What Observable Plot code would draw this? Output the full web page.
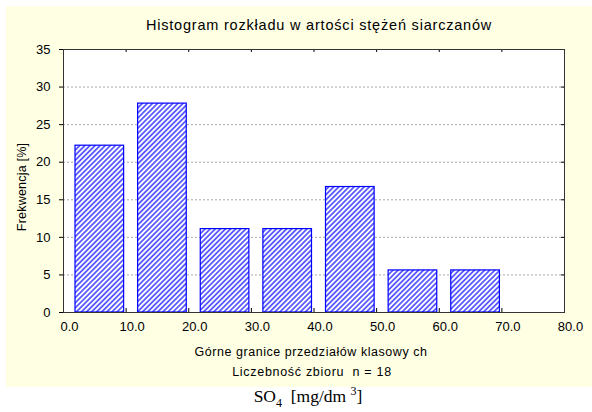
<!DOCTYPE html>
<html>
<head>
<meta charset="utf-8">
<script src="https://cdn.jsdelivr.net/npm/d3@7"></script>
<script src="https://cdn.jsdelivr.net/npm/@observablehq/plot@0.6"></script>
<style>
  html, body { margin: 0; padding: 0; background: #ffffff; }
  #wrap { position: relative; width: 592px; height: 412px; overflow: hidden; font-family: Arial, "Liberation Sans", sans-serif; color: #000; }
  #panel { position: absolute; left: 6px; top: 6px; width: 586px; height: 381px; background: #FFFFE4; }
  #chart { position: absolute; left: 0; top: 0; }
  .lbl { position: absolute; white-space: nowrap; transform: translate(-50%, -50%); line-height: 1; }
</style>
</head>
<body>
<div id="wrap">
  <div id="panel"></div>
  <div id="chart"></div>
  <div class="lbl" style="left:319px; top:25px; font-size:14.5px; letter-spacing:0.8px;">Histogram rozkładu w artości stężeń siarczanów</div>
  <div class="lbl" style="left:22px; top:187px; font-size:12.5px; letter-spacing:0.2px; transform: translate(-50%, -50%) rotate(-90deg);">Frekwencja [%]</div>
  <div class="lbl" style="left:311px; top:352px; font-size:12.5px; letter-spacing:0.55px;">Górne granice przedziałów klasowy ch</div>
  <div class="lbl" style="left:312px; top:372px; font-size:12.5px; letter-spacing:0.7px;">Liczebność zbioru&nbsp; n = 18</div>
  <div class="lbl" style="left:308px; top:397px; font-size:17.5px; font-family: 'Liberation Serif', 'DejaVu Serif', serif;">SO<sub style="font-size:12px;">4</sub>&nbsp; [mg/dm <sup style="font-size:12px;">3</sup>]</div>
</div>
<script>
// Data
const binLower = [0, 10, 20, 30, 40, 50, 60];
const binUpper = [10, 20, 30, 40, 50, 60, 70];
const frequency = [22.2, 27.8, 11.1, 11.1, 16.7, 5.6, 5.6];
const xTicks = [0, 10, 20, 30, 40, 50, 60, 70, 80];
const yTicks = [0, 5, 10, 15, 20, 25, 30, 35];
const gridValues = [5, 10, 15, 20, 25, 30];

const bins = binLower.map((lo, i) => ({lo, hi: binUpper[i], value: frequency[i]}));

const W = 592, H = 412;
const mL = 63, mR = 28, mT = 49, mB = 100;
const innerH = H - mT - mB;

const defs = () => {
  const d = d3.create("svg:defs");
  const p = d.append("pattern")
    .attr("id", "hatch")
    .attr("patternUnits", "userSpaceOnUse")
    .attr("width", 3.6)
    .attr("height", 3.6)
    .attr("patternTransform", "rotate(45)");
  p.append("rect").attr("width", 3.6).attr("height", 3.6).attr("fill", "#ffffff");
  p.append("line").attr("x1", 0.9).attr("y1", 0).attr("x2", 0.9).attr("y2", 3.6)
    .attr("stroke", "#3a3aff").attr("stroke-width", 1.5);
  return d.node();
};

const chart = Plot.plot({
  width: W,
  height: H,
  marginLeft: mL,
  marginRight: mR,
  marginTop: mT,
  marginBottom: mB,
  style: {background: "transparent", fontFamily: "Arial, 'Liberation Sans', sans-serif", color: "#000", overflow: "visible"},
  x: {domain: [0, 80]},
  y: {domain: [0, 35]},
  marks: [
    defs,
    Plot.frame({fill: "#ffffff"}),
    Plot.ruleY(gridValues, {y: d => d, stroke: "#a8a8a8", strokeDasharray: "2,2"}),
    Plot.rectY(bins, {x1: "lo", x2: "hi", y: "value", fill: "url(#hatch)", stroke: "#0000ff", strokeWidth: 1.2, insetLeft: 12, insetRight: 2}),
    Plot.tickX(xTicks, {x: d => d, stroke: "#000", insetTop: innerH - 4}),
    Plot.tickX(xTicks, {x: d => d, stroke: "#000", insetBottom: innerH - 3}),
    Plot.tickY(gridValues, {y: d => d, stroke: "#000", insetLeft: W - mL - mR - 3}),
    Plot.frame({stroke: "#333"}),
    Plot.axisX({ticks: xTicks, tickFormat: d3.format(".1f"), tickSize: 0, tickPadding: 9, dx: 6, fontSize: 13, label: null}),
    Plot.axisY({ticks: yTicks, tickSize: 4, tickPadding: 9, fontSize: 13, label: null})
  ]
});
document.getElementById("chart").appendChild(chart);
</script>
</body>
</html>
